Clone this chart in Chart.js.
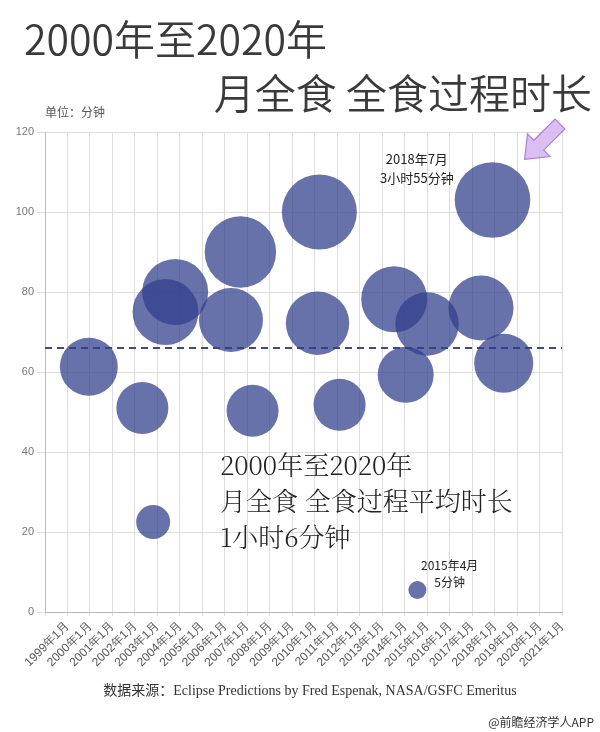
<!DOCTYPE html>
<html><head><meta charset="utf-8">
<script src="https://cdn.jsdelivr.net/npm/chart.js@4"></script>
<style>
body{margin:0;background:#fff;font-family:"Noto Sans CJK SC","Noto Sans",sans-serif;}
#wrap{position:relative;width:600px;height:732px;overflow:hidden}
.t{position:absolute;white-space:nowrap;color:#333}
</style></head><body>
<div id="wrap">
<canvas id="c" width="600" height="732"></canvas>
<div class="t" style="left:24px;top:7px;font-size:41px;font-weight:350;color:#3a3a3a">2000年至2020年</div>
<div class="t" style="right:8px;top:61px;font-size:41px;font-weight:350;color:#3a3a3a">月全食 全食过程时长</div>
<div class="t" style="left:45px;top:103px;font-size:12px;color:#555">单位：分钟</div>
<div class="t" style="left:380px;top:149px;font-size:13px;color:#222;text-align:center;line-height:19px">2018年7月<br>3小时55分钟</div>
<div class="t" style="left:421px;top:556px;font-size:12px;color:#222;text-align:center;line-height:17px">2015年4月<br>5分钟</div>
<div class="t" style="left:220px;top:446px;font-size:26px;font-weight:300;color:#222;line-height:36px;font-family:'Noto Serif CJK SC','Noto Sans CJK SC',serif">2000年至2020年<br>月全食 全食过程平均时长<br>1小时6分钟</div>
<div class="t" style="left:0;width:620px;top:679px;font-size:14px;color:#333;text-align:center;font-family:'Liberation Serif','Noto Sans CJK SC',serif">数据来源：Eclipse Predictions by Fred Espenak, NASA/GSFC Emeritus</div>
<div class="t" style="right:6px;top:713px;font-size:12px;color:#333">@前瞻经济学人APP</div>
</div>
<script>
const xLabels = ["1999年1月","2000年1月","2001年1月","2002年1月","2003年1月","2004年1月","2005年1月","2006年1月","2007年1月","2008年1月","2009年1月","2010年1月","2011年1月","2012年1月","2013年1月","2014年1月","2015年1月","2016年1月","2017年1月","2018年1月","2019年1月","2020年1月","2021年1月"];
const bubbleX = [1.95,4.33,5.79,5.36,8.69,8.27,9.23,12.2,12.12,13.1,15.53,16.99,16.04,19.9,19.39,20.4,4.81,16.56];
const bubbleY = [61.3,51,80,75,90,73,50.3,100,72.2,51.8,78.2,72,59.3,103,76,62.2,22.5,5.5];
const bubbleR = [29,26,33,33,35.7,32,26,37.5,31.7,26,33,31.7,28,37.8,32.5,29.5,17,9];
const avgMinutes = 66;
const yTicks = [0,20,40,60,80,100,120];

const arrow = {id:'arrow',afterDraw(ch){
  const c=ch.ctx;c.save();
  c.translate(543,141);c.rotate(Math.PI*1.25);
  c.beginPath();
  c.moveTo(0,-26);c.lineTo(16,-6);c.lineTo(7,-6);c.lineTo(7,24);c.lineTo(-7,24);c.lineTo(-7,-6);c.lineTo(-16,-6);c.closePath();
  c.fillStyle='rgba(214,180,240,0.85)';c.fill();
  c.strokeStyle='#b07ed8';c.lineWidth=1.2;c.stroke();
  c.restore();
}};

new Chart(document.getElementById('c'),{
  type:'bubble',
  data:{datasets:[
    {data:bubbleX.map((x,i)=>({x:x,y:bubbleY[i],r:bubbleR[i]})),backgroundColor:'rgba(50,64,140,0.74)',borderWidth:0,hoverBorderWidth:0},
    {type:'line',data:[{x:0,y:avgMinutes},{x:23,y:avgMinutes}],borderColor:'#3a4a8c',borderWidth:2,borderDash:[7,5],pointRadius:0,fill:false}
  ]},
  options:{responsive:false,animation:false,events:[],
    layout:{padding:{top:132,right:34,left:0,bottom:0}},
    plugins:{legend:{display:false},tooltip:{enabled:false}},
    scales:{
      x:{type:'linear',min:0,max:23,
        afterFit(s){s.height=120;},
        grid:{color:'#dcdcdc',drawTicks:true,tickLength:4},border:{color:'#bbb'},
        ticks:{stepSize:1,autoSkip:false,minRotation:45,maxRotation:45,color:'#555',font:{size:12},
          callback:v=>(v>=1&&v<=23)?xLabels[v-1]:''}},
      y:{min:0,max:120,
        afterFit(s){s.width=45;},
        afterBuildTicks(s){s.ticks=yTicks.map(v=>({value:v}));},
        grid:{color:'#dcdcdc'},border:{color:'#bbb'},
        ticks:{color:'#777',font:{size:11}}}
    }
  },
  plugins:[arrow]
});
</script>
</body></html>
